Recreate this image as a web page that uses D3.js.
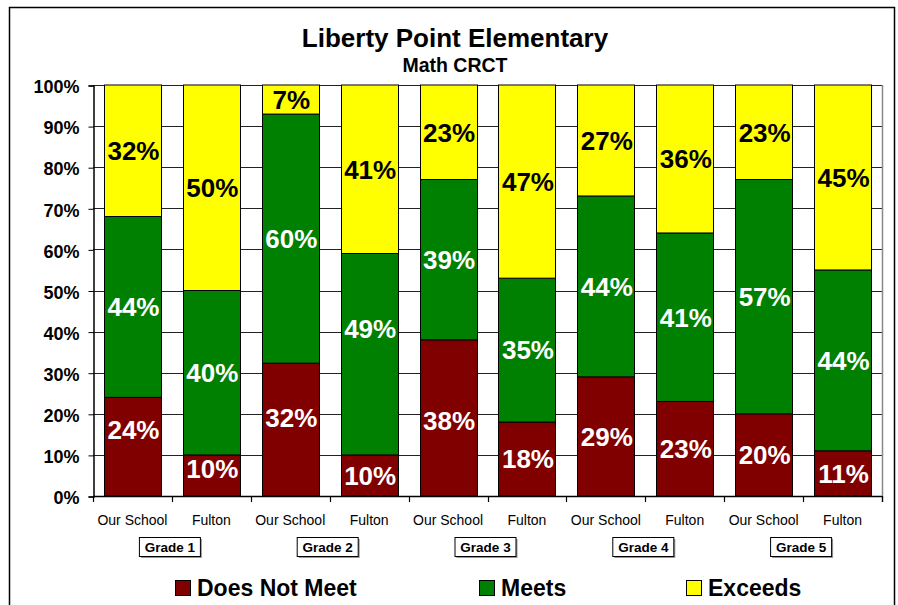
<!DOCTYPE html>
<html>
<head>
<meta charset="utf-8">
<script src="https://cdn.jsdelivr.net/npm/d3@7/dist/d3.min.js"></script>
<style>
  html, body { margin: 0; padding: 0; background: #fff; }
  svg { display: block; font-family: "Liberation Sans", Arial, Helvetica, sans-serif; }
</style>
</head>
<body>
<svg id="chart" width="898" height="605"></svg>
<script>
// ---- data ----
const title = "Liberty Point Elementary";
const subtitle = "Math CRCT";
const grades = ["Grade 1", "Grade 2", "Grade 3", "Grade 4", "Grade 5"];
const schools = ["Our School", "Fulton"];
const seriesNames = ["Does Not Meet", "Meets", "Exceeds"];
const doesNotMeet = [24, 10, 32, 10, 38, 18, 29, 23, 20, 11];
const meets       = [44, 40, 60, 49, 39, 35, 44, 41, 57, 44];
const exceeds     = [32, 50,  7, 41, 23, 47, 27, 36, 23, 45];
const yTicks = [0, 10, 20, 30, 40, 50, 60, 70, 80, 90, 100];
const yTickLabels = ["0%", "10%", "20%", "30%", "40%", "50%", "60%", "70%", "80%", "90%", "100%"];

(function () {
// ---- setup ----
const colors = ["#800000", "#008000", "#FFFF00"];
const labelColors = ["#fff", "#fff", "#000"];
// manual label nudges (in percentage points), as placed in the original
const labelNudge = { "0-0": 4.1, "0-1": 1.6, "0-2": 2.9, "1-3": 6.2, "0-4": -0.7 };

const svg = d3.select("#chart");
const pLeft = 93, pRight = 882, pTop = 85, pBottom = 496;

const bars = [];
grades.forEach((g, gi) => schools.forEach((s, si) => bars.push({ grade: g, school: s, i: gi * schools.length + si })));
const seriesData = [doesNotMeet, meets, exceeds];

const x = d3.scaleBand().domain(bars.map(b => b.i)).range([pLeft, pRight]).paddingInner(0.2776).paddingOuter(0.1388);
const y = d3.scaleLinear().domain([0, 100]).range([pBottom, pTop]);

// stacked, normalized to 100%
const table = bars.map(b => {
  const row = { i: b.i };
  seriesNames.forEach((n, k) => row[n] = seriesData[k][b.i]);
  return row;
});
const stacked = d3.stack().keys(seriesNames).offset(d3.stackOffsetExpand)(table);

// outer border
svg.append("rect").attr("x", 9.5).attr("y", 7.5).attr("width", 885).attr("height", 640)
  .attr("fill", "none").attr("stroke", "#000").attr("stroke-width", 1.5);

// title
svg.append("text").attr("x", 455).attr("y", 47).attr("text-anchor", "middle")
  .attr("font-size", 26).attr("font-weight", "bold").text(title);
svg.append("text").attr("x", 455).attr("y", 72).attr("text-anchor", "middle")
  .attr("font-size", 19.5).attr("font-weight", "bold").text(subtitle);

// gridlines
svg.append("g").selectAll("line").data(yTicks).join("line")
  .attr("x1", pLeft).attr("x2", pRight)
  .attr("y1", d => Math.round(y(d)) + 0.5).attr("y2", d => Math.round(y(d)) + 0.5)
  .attr("stroke", "#222").attr("stroke-width", 1);

// right plot edge
svg.append("line").attr("x1", pRight + 0.5).attr("x2", pRight + 0.5).attr("y1", pTop).attr("y2", pBottom + 6)
  .attr("stroke", "#888").attr("stroke-width", 1.5);

// bars
const segs = svg.append("g");
stacked.forEach((layer, k) => {
  segs.append("g").selectAll("rect").data(layer).join("rect")
    .attr("x", d => Math.round(x(d.data.i)) + 0.5)
    .attr("width", Math.round(x.bandwidth()))
    .attr("y", d => y(d[1] * 100))
    .attr("height", d => y(d[0] * 100) - y(d[1] * 100))
    .attr("fill", colors[k]).attr("stroke", "#000").attr("stroke-width", 1);
});

// axes
const yAxis = d3.axisLeft(y).tickValues(yTicks).tickFormat((d, i) => yTickLabels[i]).tickSize(5).tickPadding(9);
const yg = svg.append("g").attr("transform", `translate(${pLeft + 0.5},0.5)`).call(yAxis);
yg.select(".domain").attr("stroke", "#000").attr("stroke-width", 1.5);
yg.selectAll(".tick line").attr("stroke", "#000");
yg.selectAll("text").attr("font-size", 18).attr("font-weight", "bold").attr("fill", "#000")
  .attr("font-family", "Liberation Sans, Arial, sans-serif").attr("dy", "0.4em");

// x baseline and boundary ticks
svg.append("line").attr("x1", pLeft).attr("x2", pRight).attr("y1", pBottom + 0.5).attr("y2", pBottom + 0.5)
  .attr("stroke", "#000").attr("stroke-width", 1.5);
const bounds = d3.range(bars.length + 1).map(j => pLeft + j * x.step());
svg.append("g").selectAll("line").data(bounds).join("line")
  .attr("x1", d => Math.round(d) + 0.5).attr("x2", d => Math.round(d) + 0.5)
  .attr("y1", pBottom).attr("y2", pBottom + 6).attr("stroke", "#000").attr("stroke-width", 1.2);

// category labels
svg.append("g").selectAll("text").data(bars).join("text")
  .attr("x", d => x(d.i) + x.bandwidth() / 2).attr("y", 525)
  .attr("text-anchor", "middle").attr("font-size", 14).text(d => d.school);

// grade boxes
const gbox = svg.append("g").selectAll("g").data(grades).join("g")
  .attr("transform", (d, gi) => `translate(${pLeft + (gi * 2 + 1) * x.step() - 2},0)`);
gbox.append("rect").attr("x", -29).attr("y", 539).attr("width", 61).attr("height", 19).attr("fill", "#999");
gbox.append("rect").attr("x", -30.5).attr("y", 537.5).attr("width", 61).attr("height", 19)
  .attr("fill", "#fff").attr("stroke", "#000").attr("stroke-width", 1);
gbox.append("text").attr("x", 0).attr("y", 552).attr("text-anchor", "middle")
  .attr("font-size", 13.5).attr("font-weight", "bold").text(d => d);

// value labels
const lab = svg.append("g");
stacked.forEach((layer, k) => {
  lab.append("g").selectAll("text").data(layer).join("text")
    .attr("x", d => x(d.data.i) + x.bandwidth() / 2 + 1)
    .attr("y", (d, i) => y((d[0] + d[1]) * 50 + (labelNudge[k + "-" + i] || 0)))
    .attr("dy", "0.36em")
    .attr("text-anchor", "middle").attr("font-size", 26).attr("font-weight", "bold")
    .attr("fill", labelColors[k])
    .text(d => d.data[seriesNames[k]] + "%");
});

// legend
const legendX = [175, 479, 686];
const lg = svg.append("g").selectAll("g").data(seriesNames).join("g")
  .attr("transform", (d, k) => `translate(${legendX[k]},0)`);
lg.append("rect").attr("x", 0.5).attr("y", 580.5).attr("width", 15).attr("height", 15)
  .attr("fill", (d, k) => colors[k]).attr("stroke", "#000").attr("stroke-width", 1);
lg.append("text").attr("x", 22).attr("y", 596).attr("font-size", 23).attr("font-weight", "bold").text(d => d);
})();
</script>
</body>
</html>
